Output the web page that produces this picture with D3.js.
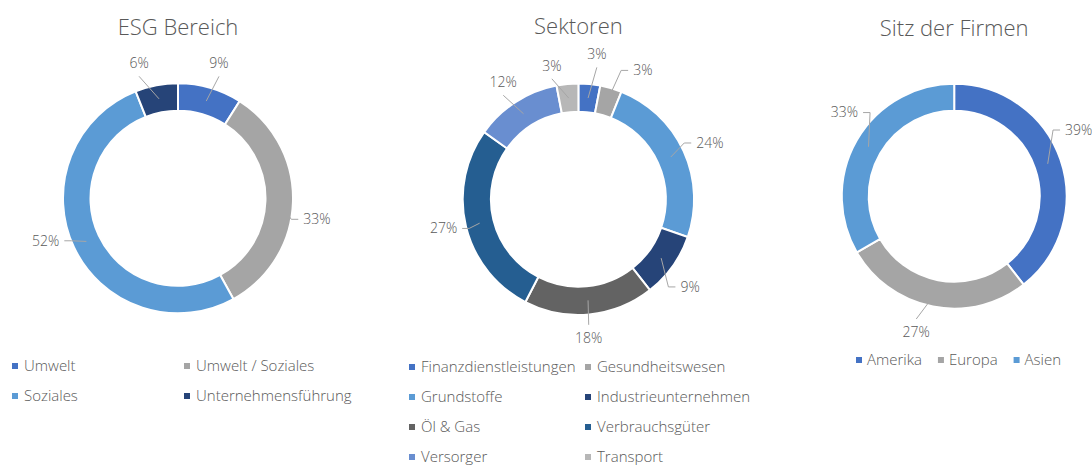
<!DOCTYPE html>
<html>
<head>
<meta charset="utf-8">
<script src="https://cdn.jsdelivr.net/npm/d3@7"></script>
<style>
  html, body { margin: 0; padding: 0; background: #ffffff; }
  svg text { font-family: "Open Sans", "Lato", "DejaVu Sans", sans-serif; font-weight: 300; fill: #595959; }
</style>
</head>
<body>
<svg id="chart" width="1092" height="465"></svg>
<script>
// ---------------- DATA ----------------
const esgCategories = ["Umwelt", "Umwelt / Soziales", "Soziales", "Unternehmensführung"];
const esgValues = [9, 33, 52, 6];

const sektorCategories = ["Finanzdienstleistungen", "Gesundheitswesen", "Grundstoffe", "Industrieunternehmen",
  "Öl & Gas", "Verbrauchsgüter", "Versorger", "Transport"];
const sektorValues = [3, 3, 24, 9, 18, 27, 12, 3];

const sitzCategories = ["Amerika", "Europa", "Asien"];
const sitzValues = [39, 27, 33];

const titles = ["ESG Bereich", "Sektoren", "Sitz der Firmen"];

// ---------------- STYLE / LAYOUT ----------------
const esgColors = ["#4472C4", "#A5A5A5", "#5B9BD5", "#264478"];
const sektorColors = ["#4472C4", "#A5A5A5", "#5B9BD5", "#264478", "#636363", "#255E91", "#698ED0", "#B7B7B7"];
const sitzColors = ["#4472C4", "#A5A5A5", "#5B9BD5"];

// label placement: [angle offset (deg) from slice middle, radius, leader connection]
const esgLabelLayout = [[0.7, 141, "v"], [6.8, 140.5, "h"], [7.4, 139, "h"], [-5.3, 140.5, "v"]];
const sektorLabelLayout = [[1.8, 146, "v"], [10.2, 144, "h"], [1.4, 143, "h"], [2.7, 142, "h"],
  [1.2, 139, "v"], [1.4, 138, "h"], [0, 139, "v"], [-5.8, 136, "v"]];
const sitzLabelLayout = [[-8.9, 141, "h"], [4.7, 141, "v"], [7.3, 138, "h"]];

const svg = d3.select("#chart");

const charts = [
  { title: titles[0], cats: esgCategories, vals: esgValues, colors: esgColors, layout: esgLabelLayout,
    cx: 178, cy: 198.3, ro: 115, ri: 87.5, titleY: 35,
    legend: { type: "grid", cols: [12, 184], rows: [366, 396] } },
  { title: titles[1], cats: sektorCategories, vals: sektorValues, colors: sektorColors, layout: sektorLabelLayout,
    cx: 578.4, cy: 199.2, ro: 115.7, ri: 87.5, titleY: 34,
    legend: { type: "grid", cols: [409, 585], rows: [367, 397, 427, 457] } },
  { title: titles[2], cats: sitzCategories, vals: sitzValues, colors: sitzColors, layout: sitzLabelLayout,
    cx: 954.2, cy: 196.2, ro: 112.4, ri: 85.5, titleY: 36,
    legend: { type: "row", x0: 856, y: 360, gap: 16 } }
];

charts.forEach(ch => {
  const g = svg.append("g");
  // title
  g.append("text")
    .attr("x", ch.cx).attr("y", ch.titleY)
    .attr("text-anchor", "middle")
    .style("font-size", "22px")
    .text(ch.title);

  const color = d3.scaleOrdinal().domain(ch.cats).range(ch.colors);
  const pie = d3.pie().sort(null).value(d => d.v);
  const data = ch.cats.map((c, i) => ({ c, v: ch.vals[i], i }));
  const arcs = pie(data);
  const arc = d3.arc().innerRadius(ch.ri).outerRadius(ch.ro);
  const rMid = (ch.ri + ch.ro) / 2;

  const pg = g.append("g").attr("transform", `translate(${ch.cx},${ch.cy})`);
  pg.selectAll("path.slice").data(arcs).enter().append("path")
    .attr("class", "slice")
    .attr("d", arc)
    .attr("fill", d => color(d.data.c))
    .attr("stroke", "#ffffff")
    .attr("stroke-width", 2);

  // labels + leader lines
  arcs.forEach((d, i) => {
    const mid = (d.startAngle + d.endAngle) / 2;
    const [off, rl, mode] = ch.layout[i];
    const a = mid + off * Math.PI / 180;
    const lx = rl * Math.sin(a), ly = -rl * Math.cos(a);
    const px = rMid * Math.sin(mid), py = -rMid * Math.cos(mid);
    const t = pg.append("text")
      .attr("x", lx).attr("y", ly)
      .attr("text-anchor", "middle")
      .attr("dy", "0.35em")
      .style("font-size", "14px")
      .text(d.data.v + "%");
    const w = t.node().getComputedTextLength();
    let pts;
    if (mode === "v") {
      const sy = py > ly ? ly + 13 : ly - 13;
      pts = [[lx, sy], [px, py]];
    } else {
      const dir = px < lx ? -1 : 1;
      const sx = lx + dir * (w / 2 + 5);
      pts = [[sx, ly], [sx + dir * 7, ly], [px, py]];
    }
    pg.insert("path", "text")
      .attr("d", d3.line()(pts))
      .attr("fill", "none")
      .attr("stroke", "#A6A6A6")
      .attr("stroke-width", 1);
  });

  // legend
  const lg = g.append("g");
  if (ch.legend.type === "grid") {
    ch.cats.forEach((c, i) => {
      const x = ch.legend.cols[i % 2], y = ch.legend.rows[Math.floor(i / 2)];
      lg.append("rect").attr("x", x).attr("y", y - 3).attr("width", 6).attr("height", 6).attr("fill", color(c));
      lg.append("text").attr("x", x + 12).attr("y", y).attr("dy", "0.35em")
        .style("font-size", "15px").text(c);
    });
  } else {
    let x = ch.legend.x0;
    ch.cats.forEach((c, i) => {
      lg.append("rect").attr("x", x).attr("y", ch.legend.y - 3).attr("width", 6).attr("height", 6).attr("fill", color(c));
      const t = lg.append("text").attr("x", x + 11).attr("y", ch.legend.y).attr("dy", "0.35em")
        .style("font-size", "15px").text(c);
      x += 11 + t.node().getComputedTextLength() + ch.legend.gap;
    });
  }
});
</script>
</body>
</html>
